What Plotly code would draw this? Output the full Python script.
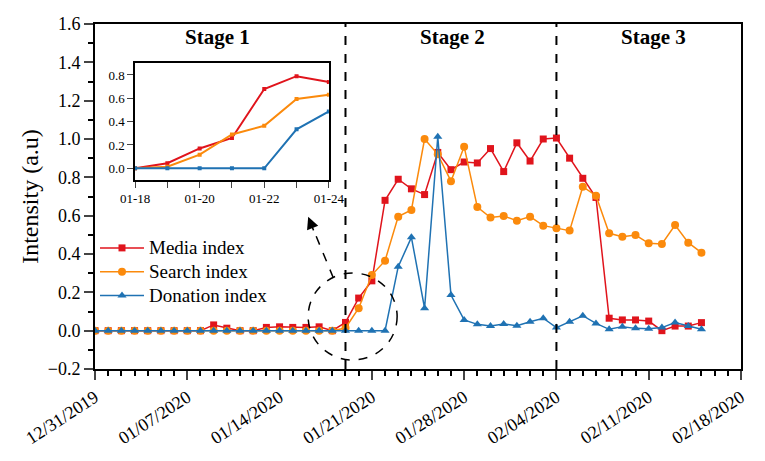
import pandas as pd
import plotly.graph_objects as go

dates = pd.date_range("2019-12-31", "2020-02-15", freq="D")

media = [0, 0, 0, 0, 0, 0, 0, 0, 0, 0.03, 0.013, 0, 0, 0.017, 0.02, 0.017, 0.017, 0.02, 0.0,
         0.043, 0.17, 0.26, 0.68, 0.79, 0.74, 0.71, 0.93, 0.84, 0.88, 0.875, 0.95, 0.83,
         0.98, 0.885, 1.0, 1.005, 0.9, 0.795, 0.695, 0.065, 0.056, 0.056, 0.05, 0.0,
         0.024, 0.024, 0.042]
search = [0] * 19 + [0.014, 0.117, 0.29, 0.365, 0.595, 0.63, 1.0, 0.92, 0.78, 0.96, 0.645,
                     0.59, 0.598, 0.574, 0.595, 0.548, 0.535, 0.522, 0.751, 0.704, 0.508,
                     0.49, 0.499, 0.456, 0.452, 0.551, 0.459, 0.407]
donation = [0] * 23 + [0.334, 0.487, 0.117, 1.012, 0.186, 0.056, 0.033, 0.024, 0.035, 0.026,
                       0.047, 0.065, 0.016, 0.047, 0.078, 0.038, 0.007, 0.021, 0.012, 0.01,
                       0.016, 0.042, 0.024, 0.007]

names = ["Media index", "Search index", "Donation index"]
colors = ["#e0141c", "#fb8a0c", "#1f72b3"]
symbols = ["square", "circle", "triangle-up"]
stages = ["Stage 1", "Stage 2", "Stage 3"]
stage_bounds = ["2020-01-19", "2020-02-04"]

serif = "Liberation Serif, Times New Roman, serif"

df = pd.DataFrame({"date": dates, "media": media, "search": search, "donation": donation})
zoom_df = df[(df.date >= "2020-01-18") & (df.date <= "2020-01-24")]

fig = go.Figure()
for col, name, c, sym in zip(["media", "search", "donation"], names, colors, symbols):
    # bigger text inside the span, row spacing still follows the smaller legend font
    fig.add_trace(go.Scatter(x=df.date, y=df[col], mode="lines+markers",
                             name='<span style="font-size:19px">' + name + "</span>",
                             line=dict(color=c, width=1.5),
                             marker=dict(symbol=sym, size=8 if sym != "square" else 7, color=c)))
for col, c in zip(["media", "search", "donation"], colors):
    fig.add_trace(go.Scatter(x=zoom_df.date, y=zoom_df[col], mode="lines+markers",
                             line=dict(color=c, width=2), showlegend=False,
                             marker=dict(symbol="square", size=4, color=c),
                             xaxis="x2", yaxis="y2"))

axis_common = dict(showline=True, linecolor="black", mirror=True, ticks="outside",
                   showgrid=False, zeroline=False, automargin=False)

# page body has an 8px margin, so the margins are shifted to compensate
fig.update_layout(
    width=765, height=461,
    margin=dict(l=87, r=32, t=16, b=100),
    plot_bgcolor="white", paper_bgcolor="white",
    font=dict(family=serif, color="black"),
    xaxis=dict(**axis_common, linewidth=2, type="date",
               range=["2019-12-31", "2020-02-18"],
               tick0="2019-12-31", dtick=7 * 86400000, tickformat="%m/%d/%Y",
               tickangle=-33, tickfont=dict(size=18), ticklen=9, tickwidth=2,
               minor=dict(dtick=86400000, ticks="outside", ticklen=5, tickcolor="black")),
    yaxis=dict(**axis_common, linewidth=2, range=[-0.2, 1.6], dtick=0.2, tickformat=".1f",
               tickfont=dict(size=18), ticklen=9, tickwidth=2,
               minor=dict(dtick=0.1, ticks="outside", ticklen=5, tickcolor="black"),
               title=dict(text="Intensity (a.u)", font=dict(size=24), standoff=2)),
    xaxis2=dict(**axis_common, linewidth=1.5, type="date", anchor="y2",
                domain=[0.062, 0.362],
                range=["2020-01-18", "2020-01-24"], tick0="2020-01-18",
                dtick=2 * 86400000, tickformat="%m-%d", tickfont=dict(size=13), ticklen=6,
                minor=dict(dtick=86400000, ticks="outside", ticklen=6, tickcolor="#444")),
    yaxis2=dict(**axis_common, linewidth=1.5, anchor="x2", domain=[0.548, 0.886],
                range=[-0.1, 0.9], dtick=0.2, tickformat=".1f", tickfont=dict(size=13),
                ticklen=6),
    legend=dict(x=0.0, y=0.4, xanchor="left", yanchor="top", font=dict(size=16),
                itemwidth=44, bgcolor="rgba(0,0,0,0)", tracegroupgap=0),
    showlegend=True,
)

for d in stage_bounds:
    fig.add_shape(type="line", xref="x", yref="paper", x0=d, x1=d, y0=0, y1=1,
                  line=dict(color="black", width=2, dash="dash"))

# dashed ellipse around the onset period
fig.add_shape(type="circle", xref="x", yref="y",
              x0="2020-01-16 04:00", x1="2020-01-22 22:00", y0=-0.153, y1=0.301,
              line=dict(color="black", width=1.5, dash="dash"))
# dashed arrow towards the inset
fig.add_shape(type="line", xref="paper", yref="paper", x0=0.369, y0=0.264, x1=0.339, y1=0.40,
              line=dict(color="black", width=1.5, dash="dash"))
fig.add_annotation(xref="paper", yref="paper", x=0.330, y=0.441, ax=6, ay=15, text="",
                   showarrow=True, arrowhead=2, arrowsize=1.6, arrowwidth=1.5,
                   arrowcolor="black")

for txt, xp in zip(stages, [0.1895, 0.553, 0.864]):
    fig.add_annotation(xref="paper", yref="paper", x=xp, y=0.962, text="<b>" + txt + "</b>",
                       xanchor="center", yanchor="middle",
                       showarrow=False, font=dict(size=21))

fig.write_html("out.html")
